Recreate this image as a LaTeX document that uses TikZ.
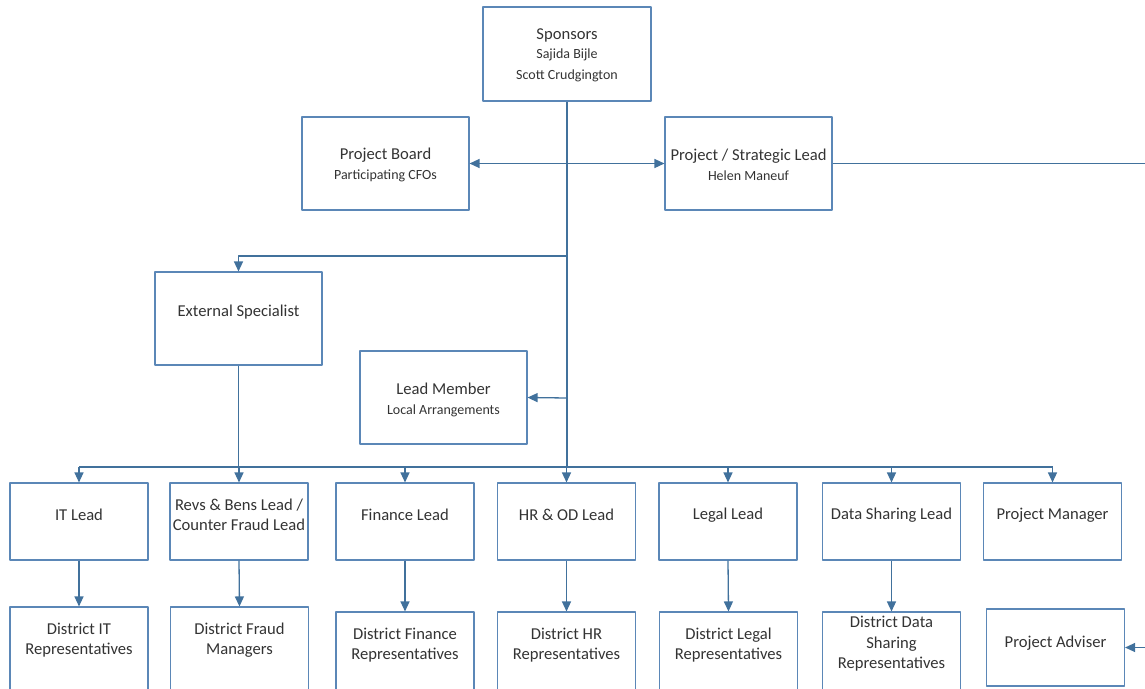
\documentclass[tikz,border=0pt]{standalone}
\usepackage{fontspec}
\setmainfont{Carlito}
\usetikzlibrary{arrows.meta}
\definecolor{linec}{HTML}{41719C}
\definecolor{boxc}{HTML}{5B87B7}
\definecolor{txtc}{HTML}{333333}
\newcommand\subf{\fontsize{14}{18}\selectfont}
\begin{document}
\begin{tikzpicture}[x=1pt,y=-1pt,line join=round,>={Triangle[length=10pt,width=9pt]},
		bigbox/.style={draw=boxc,line width=1.1pt,minimum width=167pt,minimum height=93pt},
		leadbox/.style={draw=boxc,line width=1.1pt,minimum width=138pt,minimum height=77pt},
		distbox/.style={draw=boxc,line width=1.1pt,minimum width=138pt,minimum height=93pt},
		txt/.style={text=txtc,align=center,inner sep=0pt,font=\fontsize{16.6}{20.5}\selectfont},
		conn/.style={draw=linec,line width=1.3pt},
		trunk/.style={draw=linec,line width=2pt}]
			\useasboundingbox (0,0) rectangle (1145,688);
			\clip (0,0) rectangle (1145,688);
			\path
			(567,467) coordinate (bus)
			(567,256) coordinate (extj)
			(567,398) coordinate (lmj)
			(1145,163.5) coordinate (edgeR)
			(1145,647.5) coordinate (edgeA)
			;
			\node[bigbox,minimum width=168pt,minimum height=94pt] (spon) at (567,54) {};
			\node[txt] (spon-t) at (567,55) {Sponsors\\[-1pt]\subf Sajida Bijle\\\subf Scott Crudgington};
			\node[bigbox] (board) at (385.5,163.5) {};
			\node[txt] (board-t) at (385.5,165) {Project Board\\[-1pt]\subf Participating CFOs};
			\node[bigbox] (strat) at (748.5,163.5) {};
			\node[txt] (strat-t) at (748.5,165) {Project / Strategic Lead\\[-1pt]\subf Helen Maneuf};
			\node[bigbox] (ext) at (238.5,318.5) {};
			\node[txt] (ext-t) at (238.5,312) {External Specialist};
			\node[bigbox] (lmem) at (443.5,397.5) {};
			\node[txt] (lmem-t) at (443.5,400) {Lead Member\\[-1pt]\subf Local Arrangements};
			\foreach \n/\x/\t in {it/79/IT Lead,revs/239/{Revs \& Bens Lead /\\Counter Fraud Lead},
				fin/405/Finance Lead,hr/566.5/HR \& OD Lead,legal/728/Legal Lead,
				data/891.5/Data Sharing Lead,pm/1052.5/Project Manager}
			{
				\node[leadbox] (\n) at (\x,521.5) {};
				\node[txt] (\n-t) at (\x,515) {\t};
			}
			\foreach \n/\x/\y/\ty/\t in {dit/79/607/640/{District IT\\Representatives},
				dfraud/239.5/607/640/{District Fraud\\Managers},
				dfin/405/612/645/{District Finance\\Representatives},
				dhr/566.5/612/645/{District HR\\Representatives},
				dlegal/728.5/612/645/{District Legal\\Representatives},
				ddata/891.5/612/644/{District Data\\Sharing\\Representatives}}
			{
				\node[distbox] (\n) at (\x,{\y+46.5}) {};
				\node[txt] (\n-t) at (\x,\ty) {\t};
			}
			\node[leadbox] (adv) at (1055.5,647.5) {};
			\node[txt] (adv-t) at (1055.5,643) {Project Adviser};
			\draw[trunk] (spon.south) -- (bus);
			\draw[conn,<->] (board.east) -- (strat.west);
			\draw[conn] (strat.east) -- (edgeR);
			\draw[conn,->] (extj) -| (ext.north);
			\draw[conn] (ext.south) -- (ext.south |- bus);
			\draw[conn,->] (lmj) -- (lmem.east);
			\draw[conn] (it.north |- bus) -- (pm.north |- bus);
			\foreach \n in {it,revs,fin,hr,legal,data,pm}
			\draw[conn,->] (\n.north |- bus) -- (\n.north);
			\foreach \a/\b in {it/dit,revs/dfraud,fin/dfin,hr/dhr,legal/dlegal,data/ddata}
			\draw[conn,->] (\a.south) -- (\b.north);
			\draw[conn,->] (edgeA) -- (adv.east);
		\end{tikzpicture}
\end{document}
